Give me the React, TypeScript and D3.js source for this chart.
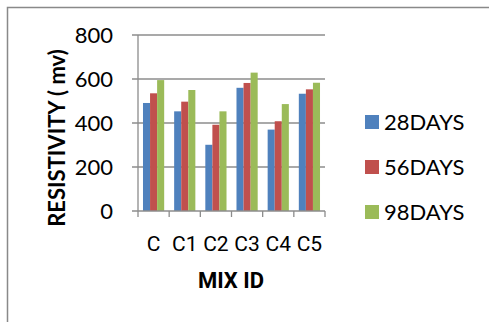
import React from "react";
import * as d3 from "d3";

const categories = ["C", "C1", "C2", "C3", "C4", "C5"];
const seriesNames = ["28DAYS", "56DAYS", "98DAYS"];
const days28 = [491, 453, 301, 560, 370, 533];
const days56 = [535, 497, 392, 582, 408, 553];
const days98 = [595, 550, 453, 629, 486, 583];
const yTicks = [0, 200, 400, 600, 800];
const colors = ["#4F81BD", "#C0504D", "#9BBB59"];

export default function App() {
  const W = 489, H = 322;
  const left = 138, right = 325, top = 35, bottom = 211;
  const series = [days28, days56, days98];

  const x = d3.scaleBand<string>().domain(categories).range([left, right]).paddingInner(0.32).paddingOuter(0.16);
  const xs = d3.scaleBand<string>().domain(seriesNames).range([0, x.bandwidth()]);
  const y = d3.scaleLinear().domain([0, 800]).range([bottom, top]);
  const step = (right - left) / categories.length;

  return (
    <svg width={W} height={H} style={{ position: "absolute", left: 0, top: 0 }}>
      <rect x={0} y={0} width={W} height={H} fill="#fff" />
      <rect x={7.5} y={7.5} width={W + 10} height={H + 10} fill="none" stroke="#898989" strokeWidth={1.5} />
      {yTicks.slice(1).map((t) => (
        <line key={t} x1={left - 6} x2={right} y1={y(t)} y2={y(t)} stroke="#8c8c8c" strokeWidth={1.3} />
      ))}
      {series.map((vals, si) =>
        vals.map((v, ci) => (
          <rect
            key={`${si}-${ci}`}
            x={(x(categories[ci]) as number) + (xs(seriesNames[si]) as number)}
            y={y(v)}
            width={xs.bandwidth()}
            height={y(0) - y(v)}
            fill={colors[si]}
          />
        ))
      )}
      <line x1={left} x2={left} y1={top} y2={bottom} stroke="#8c8c8c" strokeWidth={1.3} />
      <line x1={left - 6} x2={right} y1={bottom} y2={bottom} stroke="#8c8c8c" strokeWidth={1.3} />
      {d3.range(categories.length + 1).map((i) => (
        <line key={i} x1={left + i * step} x2={left + i * step} y1={bottom} y2={bottom + 6} stroke="#8c8c8c" strokeWidth={1.3} />
      ))}
      {yTicks.map((t) => (
        <text key={t} x={113} y={y(t)} dy="0.36em" textAnchor="end" fontFamily="Lato" fontSize={22} fill="#000">
          {t}
        </text>
      ))}
      {categories.map((c) => (
        <text key={c} x={(x(c) as number) + x.bandwidth() / 2} y={251} textAnchor="middle" fontFamily="Roboto" fontSize={21} fill="#000">
          {c}
        </text>
      ))}
      <text x={231} y={288} textAnchor="middle" fontFamily="Roboto" fontWeight="bold" fontSize={22} fill="#000">
        MIX ID
      </text>
      <text transform="translate(65,138) rotate(-90)" textAnchor="middle" fontFamily="Lato" fontWeight="bold" fontSize={22} fill="#000">
        RESISTIVITY ( mv)
      </text>
      {seriesNames.map((s, i) => (
        <g key={s} transform={`translate(365,${122 + i * 45})`}>
          <rect x={0} y={-7} width={14} height={14} fill={colors[i]} />
          <text x={19} y={0} dy="0.36em" fontFamily="Lato" fontSize={22} fill="#000">
            {s}
          </text>
        </g>
      ))}
    </svg>
  );
}
